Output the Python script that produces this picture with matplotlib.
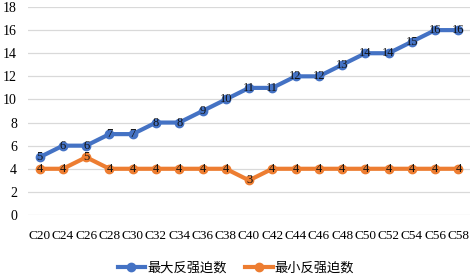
import matplotlib
matplotlib.use("Agg")
import matplotlib.pyplot as plt

categories = ["C20", "C24", "C26", "C28", "C30", "C32", "C34", "C36", "C38", "C40",
              "C42", "C44", "C46", "C48", "C50", "C52", "C54", "C56", "C58"]
max_vals = [5, 6, 6, 7, 7, 8, 8, 9, 10, 11, 11, 12, 12, 13, 14, 14, 15, 16, 16]
min_vals = [4, 4, 5, 4, 4, 4, 4, 4, 4, 3, 4, 4, 4, 4, 4, 4, 4, 4, 4]
series_names = ["最大反强迫数", "最小反强迫数"]
y_ticks = [0, 2, 4, 6, 8, 10, 12, 14, 16, 18]

plt.rcParams["font.family"] = ["Liberation Serif", "DejaVu Serif"]
cjk = ["Noto Sans CJK SC", "DejaVu Sans"]

fig = plt.figure(figsize=(4.72, 2.78), dpi=100)
ax = fig.add_axes([0.0593, 0.2266, 0.9367, 0.7482])

x = list(range(len(categories)))
colors = ["#4472C4", "#ED7D31"]
for vals, name, c in zip([max_vals, min_vals], series_names, colors):
    ax.plot(x, vals, color=c, linewidth=3, marker="o", markersize=6,
            markerfacecolor=c, markeredgecolor=c, label=name, zorder=3)
    for xi, v in zip(x, vals):
        ax.text(xi, v, str(v), ha="center", va="center", fontsize=9,
                color="#111111", zorder=4)

ax.set_xlim(-0.5, len(categories) - 0.5)
ax.set_ylim(0, 18)
ax.set_yticks(y_ticks)
ax.set_xticks(x)
ax.set_xticklabels(categories)
ax.tick_params(labelsize=10, length=0, pad=8)
ax.tick_params(axis="x", labelsize=9.5, pad=11)
ax.grid(axis="y", color="#D9D9D9", linewidth=0.9)
ax.set_axisbelow(True)
for s in ax.spines.values():
    s.set_visible(False)

leg = ax.legend(loc="center", bbox_to_anchor=(0.5 - 0.0593 / 2, -0.255), ncol=2,
                frameon=False, prop={"family": cjk, "size": 9.5},
                handlelength=2.1, columnspacing=1.4, handletextpad=0.15)

fig.savefig("out.png", dpi=100)
